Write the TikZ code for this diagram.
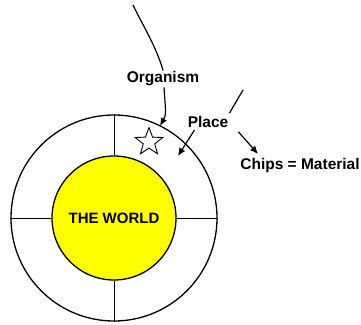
\documentclass[tikz,border=0pt]{standalone}
\usepackage{fontspec}
\setmainfont{Liberation Sans}
\usetikzlibrary{arrows.meta,shapes.geometric}
\definecolor{Sun}{HTML}{FFFF00}

\begin{document}
\begin{tikzpicture}[x=1pt,y=-1pt,
  ring/.style={circle,draw=black,line width=1.3pt,inner sep=0pt},
  quad/.style={draw=black,line width=0.8pt},
  tag/.style={font=\fontsize{15.5}{18}\selectfont\bfseries,inner sep=1pt},
  arrow/.style={-{Latex[length=8pt,width=7pt]},line width=1.2pt},
  link/.style={line width=1.2pt}
]
\useasboundingbox (0,0) rectangle (361,324);
\node[ring,minimum size=206pt] (outer) at (114,218) {};
\node[ring,fill=Sun,minimum size=124pt,font=\fontsize{15}{18}\selectfont\bfseries] (world) at (114,218) {THE WORLD};
\draw[quad] (outer.north) -- (world.north);
\draw[quad] (outer.south) -- (world.south);
\draw[quad] (outer.west) -- (world.west);
\draw[quad] (outer.east) -- (world.east);
\node[star,star points=5,star point ratio=2.4,draw=black,line width=0.9pt,minimum size=29pt,inner sep=0pt] (organism) at (149,142) {};
\node[tag] (org) at (163,79) {Organism};
\node[tag] (place) at (208,122) {Place};
\node[tag] (chips) at (300,165) {Chips = Material};
\coordinate (sky) at (133,5);
\coordinate (orgtip) at (160,126);
\coordinate (placetip) at (178,156);
\coordinate (beam) at (243,90);
\coordinate (chipstip) at (258,154);
% lines into the labels
\draw[link] (sky) .. controls (142,24) and (157,48) .. (org.north);
\draw[link] (place.north east) ++(0,-2) coordinate (pne) -- (beam);
% arrows out of the labels
\draw[arrow] (org.south) ++(1,0) .. controls (166,115) .. (orgtip);
\draw[arrow] (place.south west) ++(8,1) -- (placetip);
\draw[arrow] (place.south east) ++(9,3) -- (chipstip);
\end{tikzpicture}
\end{document}
